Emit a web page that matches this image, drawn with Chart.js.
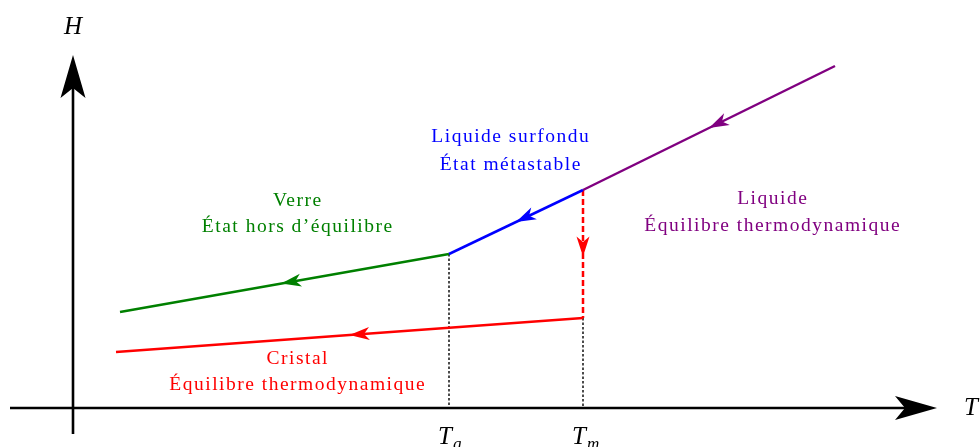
<!DOCTYPE html>
<html>
<head>
<meta charset="utf-8">
<script src="https://cdn.jsdelivr.net/npm/chart.js@4"></script>
<style>
  html, body { margin: 0; padding: 0; background: #fff; }
  #wrap { width: 980px; height: 447px; }
</style>
</head>
<body>
<div id="wrap"><canvas id="diag" width="980" height="447"></canvas></div>
<script>
// enthalpy H vs temperature T, arbitrary units, origin where the axes cross
const T_G = 3.76, T_M = 5.10;
const liquideT = [7.62, T_M],  liquideH = [3.42, 2.18];
const surfonduT = [T_M, T_G],  surfonduH = [2.18, 1.54];
const verreT = [T_G, 0.47],    verreH = [1.54, 0.96];
const cristalT = [T_M, 0.43],  cristalH = [0.90, 0.56];
const trempeT = [T_M, T_M],    trempeH = [2.18, 0.90];

const labelText = ['Liquide surfondu', 'État métastable', 'Liquide', 'Équilibre thermodynamique',
                   'Verre', 'État hors d’équilibre', 'Cristal', 'Équilibre thermodynamique'];
const labelT = [4.37, 4.37, 6.99, 6.99, 2.24, 2.24, 2.24, 2.24];
const labelH = [2.71, 2.43, 2.09, 1.82, 2.07, 1.81, 0.49, 0.23];
const labelColor = ['#0000ff', '#0000ff', '#800080', '#800080', '#008000', '#008000', '#ff0000', '#ff0000'];

const GREEN = '#008000', BLUE = '#0000ff', PURPLE = '#800080', RED = '#ff0000';

const pts = (xs, ys) => xs.map((x, i) => ({ x, y: ys[i] }));

function seg(xs, ys, color, extra = {}) {
  return { data: pts(xs, ys), borderColor: color, borderWidth: 2.5, showLine: true, pointRadius: 0, fill: false, ...extra };
}

function stealth(ctx, tip, from, len, half, inset, color) {
  const dx = tip.x - from.x, dy = tip.y - from.y;
  const d = Math.hypot(dx, dy), ux = dx / d, uy = dy / d, px = -uy, py = ux;
  const bx = tip.x - ux * len, by = tip.y - uy * len;
  ctx.beginPath();
  ctx.moveTo(tip.x, tip.y);
  ctx.lineTo(bx + px * half, by + py * half);
  ctx.lineTo(tip.x - ux * (len - inset), tip.y - uy * (len - inset));
  ctx.lineTo(bx - px * half, by - py * half);
  ctx.closePath();
  ctx.fillStyle = color;
  ctx.fill();
}

const decor = {
  id: 'decor',
  beforeDatasetsDraw(chart) {
    const { ctx, scales: { x, y } } = chart;
    ctx.save();
    ctx.strokeStyle = '#000';
    ctx.lineWidth = 2.6;
    ctx.beginPath();
    ctx.moveTo(x.getPixelForValue(-0.63), y.getPixelForValue(0));
    ctx.lineTo(x.getPixelForValue(8.55), y.getPixelForValue(0));
    ctx.moveTo(x.getPixelForValue(0), y.getPixelForValue(-0.26));
    ctx.lineTo(x.getPixelForValue(0), y.getPixelForValue(3.45));
    ctx.stroke();
    ctx.restore();
  },
  afterDatasetsDraw(chart) {
    const { ctx, scales: { x, y } } = chart;
    const P = (t, h) => ({ x: x.getPixelForValue(t), y: y.getPixelForValue(h) });
    ctx.save();
    // axis arrows
    stealth(ctx, P(8.64, 0), P(0, 0), 42, 12, 10, '#000');
    stealth(ctx, P(0, 3.53), P(0, 0), 43, 12.5, 10, '#000');
    // mid arrows along the path
    const mids = [[liquideT, liquideH, PURPLE, 0.5], [surfonduT, surfonduH, BLUE, 0.5], [verreT, verreH, GREEN, 0.51],
                  [cristalT, cristalH, RED, 0.5], [trempeT, trempeH, RED, 0.52]];
    mids.forEach(([ts, hs, c, f]) => {
      const a = P(ts[0], hs[0]), b = P(ts[1], hs[1]);
      const tip = { x: a.x + (b.x - a.x) * f, y: a.y + (b.y - a.y) * f };
      stealth(ctx, tip, a, 20, 6.5, 5.5, c);
    });
    // texts
    ctx.textAlign = 'center';
    ctx.textBaseline = 'middle';
    ctx.font = '19.5px "Liberation Serif"';
    ctx.letterSpacing = '1.5px';
    labelText.forEach((s, i) => {
      ctx.fillStyle = labelColor[i];
      const p = P(labelT[i], labelH[i]);
      ctx.fillText(s, p.x + 0.75, p.y);
    });
    ctx.letterSpacing = '0px';
    ctx.fillStyle = '#000';
    ctx.font = 'italic 25px "Liberation Serif"';
    let p = P(0, 3.81);
    ctx.fillText('H', p.x, p.y);
    p = P(8.98, 0);
    ctx.fillText('T', p.x, p.y);
    [[T_G, 'g'], [T_M, 'm']].forEach(([t, sub]) => {
      const q = P(t, -0.29);
      ctx.font = 'italic 25px "Liberation Serif"';
      ctx.textAlign = 'center';
      ctx.fillText('T', q.x - 4, q.y);
      ctx.font = 'italic 17px "Liberation Serif"';
      ctx.textAlign = 'left';
      ctx.fillText(sub, q.x + 4, q.y + 8);
    });
    ctx.restore();
  }
};

new Chart(document.getElementById('diag'), {
  type: 'scatter',
  data: {
    datasets: [
      seg(liquideT, liquideH, PURPLE),
      seg(surfonduT, surfonduH, BLUE),
      seg(verreT, verreH, GREEN),
      seg(cristalT, cristalH, RED),
      seg(trempeT, trempeH, RED, { borderDash: [6, 3] }),
      seg([T_G, T_G], [verreH[0], 0], '#000', { borderWidth: 1.4, borderDash: [2.5, 2] }),
      seg([T_M, T_M], [cristalH[0], 0], '#000', { borderWidth: 1.4, borderDash: [2.5, 2] }),
    ]
  },
  options: {
    responsive: false,
    animation: false,
    layout: { padding: 0 },
    plugins: { legend: { display: false }, tooltip: { enabled: false } },
    scales: {
      x: { type: 'linear', min: -0.73, max: 9.07, display: false },
      y: { type: 'linear', min: -0.39, max: 4.08, display: false },
    }
  },
  plugins: [decor]
});
</script>
</body>
</html>
